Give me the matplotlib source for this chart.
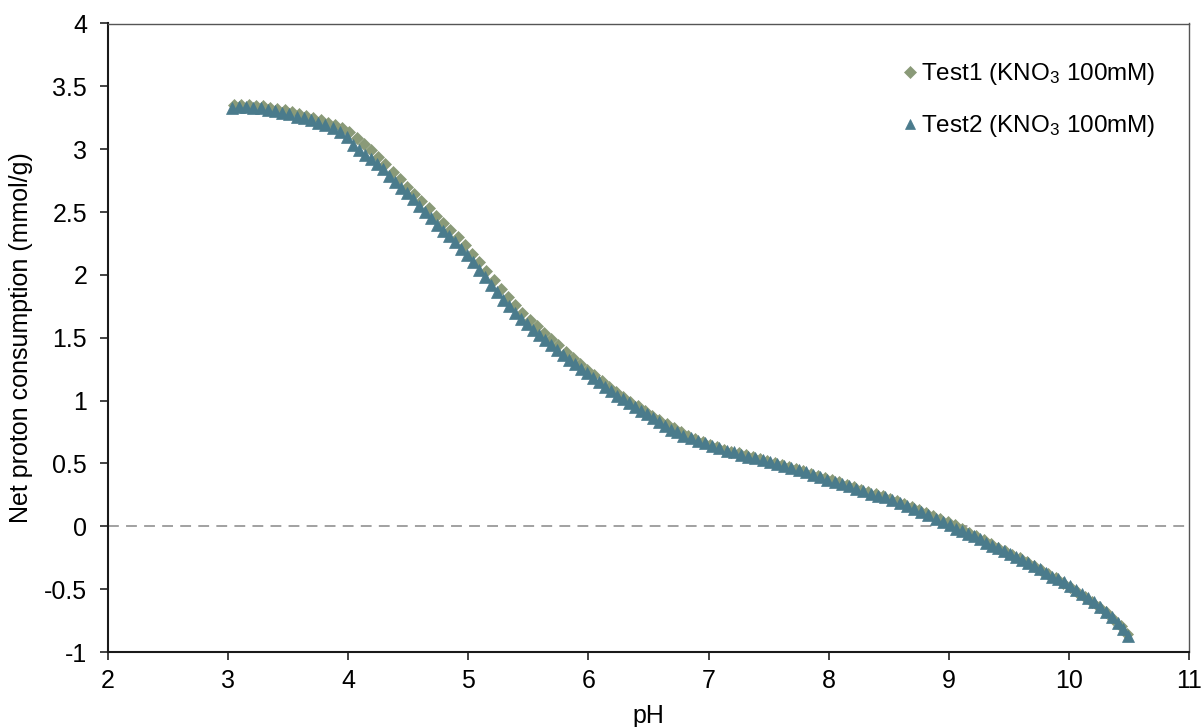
import matplotlib
matplotlib.use("Agg")
import matplotlib.pyplot as plt

plt.rcParams['font.family'] = ['Liberation Sans', 'DejaVu Sans']
plt.rcParams['mathtext.fontset'] = 'custom'
plt.rcParams['mathtext.rm'] = 'Liberation Sans'
plt.rcParams['mathtext.it'] = 'Liberation Sans'

# ---- data ----
test1_ph = [3.05, 3.11, 3.17, 3.23, 3.29, 3.35, 3.41, 3.47, 3.53, 3.59, 3.65, 3.71, 3.77, 3.83, 3.89, 3.95,
            4.01, 4.07, 4.13, 4.19, 4.25, 4.31, 4.37, 4.43, 4.49, 4.55, 4.61, 4.67, 4.73, 4.79, 4.85, 4.91,
            4.97, 5.03, 5.09, 5.15, 5.21, 5.27, 5.33, 5.39, 5.45, 5.51, 5.57, 5.63, 5.69, 5.75, 5.81, 5.87,
            5.93, 5.99, 6.05, 6.11, 6.17, 6.23, 6.29, 6.35, 6.41, 6.47, 6.53, 6.59, 6.65, 6.71, 6.77, 6.83,
            6.89, 6.95, 7.01, 7.07, 7.13, 7.19, 7.25, 7.31, 7.37, 7.43, 7.49, 7.55, 7.61, 7.67, 7.73, 7.79,
            7.85, 7.91, 7.97, 8.03, 8.09, 8.15, 8.21, 8.27, 8.33, 8.39, 8.45, 8.51, 8.57, 8.63, 8.69, 8.75,
            8.81, 8.87, 8.93, 8.99, 9.05, 9.11, 9.17, 9.23, 9.29, 9.35, 9.41, 9.47, 9.53, 9.59, 9.65, 9.71,
            9.77, 9.83, 9.89, 9.95, 10.01, 10.07, 10.13, 10.19, 10.25, 10.31, 10.37, 10.43, 10.48]
test1_val = [3.35, 3.355, 3.35, 3.345, 3.34, 3.33, 3.32, 3.31, 3.295, 3.28, 3.265, 3.25, 3.23, 3.21, 3.19, 3.165,
             3.135, 3.09, 3.04, 2.99, 2.94, 2.88, 2.82, 2.76, 2.70, 2.645, 2.59, 2.53, 2.47, 2.415, 2.36, 2.30,
             2.24, 2.17, 2.10, 2.03, 1.96, 1.89, 1.825, 1.76, 1.70, 1.645, 1.59, 1.54, 1.49, 1.44, 1.39, 1.34,
             1.29, 1.245, 1.20, 1.155, 1.11, 1.07, 1.03, 0.99, 0.955, 0.92, 0.88, 0.845, 0.81, 0.78, 0.75, 0.72,
             0.695, 0.67, 0.65, 0.63, 0.61, 0.595, 0.58, 0.565, 0.55, 0.535, 0.52, 0.505, 0.49, 0.47, 0.455, 0.44,
             0.42, 0.40, 0.385, 0.365, 0.35, 0.33, 0.31, 0.29, 0.27, 0.255, 0.24, 0.22, 0.20, 0.18, 0.155, 0.13,
             0.105, 0.08, 0.055, 0.035, 0.01, -0.02, -0.05, -0.08, -0.11, -0.14, -0.17, -0.195, -0.225, -0.255, -0.285, -0.315,
             -0.345, -0.38, -0.415, -0.45, -0.485, -0.52, -0.56, -0.60, -0.64, -0.685, -0.735, -0.795, -0.86]

test2_ph = [3.03, 3.09, 3.15, 3.21, 3.27, 3.33, 3.39, 3.45, 3.51, 3.57, 3.63, 3.69, 3.75, 3.81, 3.87, 3.93,
            3.99, 4.04, 4.09, 4.14, 4.19, 4.24, 4.29, 4.34, 4.39, 4.44, 4.49, 4.54, 4.59, 4.64, 4.69, 4.74,
            4.79, 4.84, 4.89, 4.94, 4.99, 5.04, 5.09, 5.14, 5.19, 5.24, 5.29, 5.34, 5.39, 5.44, 5.49, 5.54,
            5.59, 5.64, 5.69, 5.74, 5.79, 5.84, 5.89, 5.94, 5.99, 6.04, 6.09, 6.14, 6.19, 6.24, 6.29, 6.34,
            6.39, 6.44, 6.49, 6.54, 6.59, 6.64, 6.69, 6.74, 6.79, 6.85, 6.91, 6.97, 7.03, 7.09, 7.15, 7.21,
            7.27, 7.33, 7.39, 7.45, 7.51, 7.57, 7.63, 7.69, 7.75, 7.81, 7.87, 7.93, 7.99, 8.05, 8.11, 8.17,
            8.23, 8.29, 8.35, 8.41, 8.47, 8.53, 8.59, 8.65, 8.71, 8.77, 8.83, 8.89, 8.95, 9.01, 9.06, 9.11,
            9.16, 9.21, 9.26, 9.31, 9.36, 9.41, 9.46, 9.51, 9.56, 9.61, 9.66, 9.71, 9.76, 9.81, 9.86, 9.91,
            9.96, 10.01, 10.06, 10.11, 10.16, 10.21, 10.26, 10.31, 10.36, 10.41, 10.45, 10.49]
test2_val = [3.33, 3.335, 3.335, 3.33, 3.325, 3.315, 3.30, 3.29, 3.28, 3.26, 3.245, 3.23, 3.21, 3.19, 3.165, 3.14,
             3.10, 3.03, 2.99, 2.95, 2.92, 2.88, 2.84, 2.79, 2.74, 2.69, 2.65, 2.60, 2.55, 2.50, 2.45, 2.40,
             2.35, 2.31, 2.26, 2.21, 2.16, 2.10, 2.04, 1.98, 1.92, 1.86, 1.80, 1.75, 1.70, 1.65, 1.61, 1.56,
             1.52, 1.48, 1.44, 1.40, 1.36, 1.32, 1.29, 1.25, 1.22, 1.18, 1.15, 1.11, 1.08, 1.04, 1.01, 0.98,
             0.95, 0.92, 0.89, 0.86, 0.83, 0.80, 0.77, 0.75, 0.72, 0.70, 0.68, 0.66, 0.64, 0.62, 0.60, 0.59,
             0.57, 0.555, 0.54, 0.525, 0.51, 0.495, 0.48, 0.46, 0.445, 0.43, 0.41, 0.39, 0.37, 0.355, 0.34, 0.32,
             0.30, 0.28, 0.26, 0.245, 0.23, 0.21, 0.185, 0.165, 0.14, 0.115, 0.09, 0.06, 0.035, 0.01, -0.02, -0.04,
             -0.06, -0.08, -0.105, -0.13, -0.155, -0.175, -0.195, -0.22, -0.245, -0.265, -0.29, -0.315, -0.34, -0.37, -0.40, -0.42,
             -0.445, -0.475, -0.505, -0.535, -0.57, -0.605, -0.64, -0.68, -0.725, -0.77, -0.82, -0.875]

series_labels = ["Test1 (KNO$_3$ 100mM)", "Test2 (KNO$_3$ 100mM)"]
x_ticks = [2, 3, 4, 5, 6, 7, 8, 9, 10, 11]
y_ticks = [-1, -0.5, 0, 0.5, 1, 1.5, 2, 2.5, 3, 3.5, 4]
y_ticklabels = ["-1", "-0.5", "0", "0.5", "1", "1.5", "2", "2.5", "3", "3.5", "4"]

# ---- figure ----
fig = plt.figure(figsize=(12.02, 7.27), dpi=100)
ax = fig.add_axes([108 / 1202, 1 - 652 / 727, (1189 - 108) / 1202, (652 - 23.5) / 727])

col1 = '#8a9a78'
col2 = '#4a7b8c'

ax.axhline(0, color='#9a9a9a', lw=1.3, ls=(0, (6, 4)), zorder=1)
ax.plot(test1_ph, test1_val, ls='none', marker='D', ms=6.5, color=col1, mec=col1, mew=0.5,
        label=series_labels[0], zorder=2)
ax.plot(test2_ph, test2_val, ls='none', marker='^', ms=8, color=col2, mec=col2, mew=0.5,
        label=series_labels[1], zorder=3)

ax.set_xlim(2, 11)
ax.set_ylim(-1, 4)
ax.set_xticks(x_ticks)
ax.set_yticks(y_ticks)
ax.set_yticklabels(y_ticklabels)
ax.tick_params(direction='out', length=6, width=1.2, labelsize=18, color='#222222', pad=6)
ax.tick_params(axis='y', pad=9)

for s in ['left', 'bottom']:
    ax.spines[s].set_color('#1a1a1a')
    ax.spines[s].set_linewidth(1.5)
for s in ['top', 'right']:
    ax.spines[s].set_color('#555555')
    ax.spines[s].set_linewidth(1.0)

ax.set_xlabel('pH', fontsize=18, labelpad=8)
ax.set_ylabel('Net proton consumption (mmol/g)', fontsize=18, labelpad=8)

leg = ax.legend(loc='upper right', bbox_to_anchor=(0.969, 0.94), frameon=False, fontsize=17.5,
                handlelength=0.5, handletextpad=0.2, labelspacing=1.08, borderpad=0, borderaxespad=0,
                markerscale=0.95)

fig.savefig('out.png', dpi=100)
